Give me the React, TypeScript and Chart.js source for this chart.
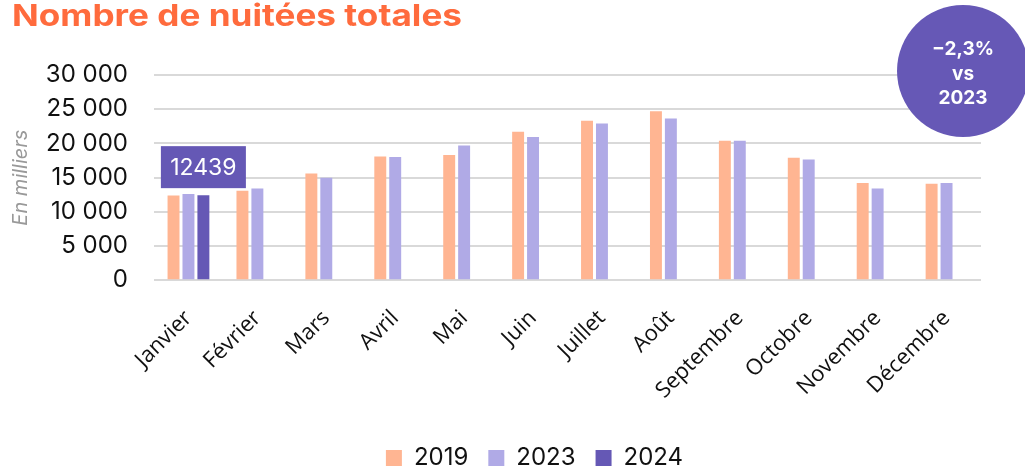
import React, { useEffect, useRef } from "react";
import { Chart, registerables } from "chart.js";

Chart.register(...registerables);

const categories = ["Janvier", "Février", "Mars", "Avril", "Mai", "Juin", "Juillet", "Août", "Septembre", "Octobre", "Novembre", "Décembre"];
const values2019 = [12400, 13100, 15600, 18100, 18300, 21700, 23300, 24700, 20400, 17900, 14200, 14100];
const values2023 = [12600, 13400, 15000, 18000, 19700, 20950, 22900, 23650, 20400, 17650, 13400, 14200];
const values2024 = [12439, null, null, null, null, null, null, null, null, null, null, null];
const seriesLabels = ["2019", "2023", "2024"];
const seriesColors = ["#FFB592", "#B0AAE6", "#6558B5"];
const titleText = "Nombre de nuitées totales";
const yTitle = "En milliers";
const badgeLines = ["−2,3%", "vs", "2023"];

const FONT = "Inter, 'Noto Sans', sans-serif";
const LABEL_FONT = "'Open Sans', 'Noto Sans', sans-serif";

const fmt = (v: number) => String(Math.round(v)).replace(/\B(?=(\d{3})+(?!\d))/g, " ");

const overlayPlugin = {
  id: "overlay",
  afterLayout(chart: any) {
    const lg = chart.legend;
    if (lg) {
      lg.left += 44;
      lg.right += 44;
    }
  },
  afterDatasetsDraw(chart: any) {
    const ctx = chart.ctx;
    const meta = chart.getDatasetMeta(2);
    const v = values2024[0];
    const el = meta.data[0];
    if (el && v != null) {
      const w = 85, h = 42;
      const x = el.x - w / 2;
      const y = el.y - 7 - h;
      ctx.save();
      ctx.fillStyle = "#6558B5";
      ctx.fillRect(x, y, w, h);
      ctx.fillStyle = "#ffffff";
      ctx.font = `400 23px ${FONT}`;
      ctx.textAlign = "center";
      ctx.textBaseline = "middle";
      ctx.fillText(String(v), el.x, y + h / 2 + 1);
      ctx.restore();
    }
  },
  afterDraw(chart: any) {
    const ctx = chart.ctx;
    // title
    ctx.save();
    ctx.font = `700 30px ${FONT}`;
    ctx.fillStyle = "#FF6B3D";
    ctx.textAlign = "left";
    ctx.textBaseline = "alphabetic";
    const mw = ctx.measureText(titleText).width;
    const targetW = 450;
    ctx.translate(12, 26);
    ctx.scale(targetW / mw, 1);
    ctx.fillText(titleText, 0, 0);
    ctx.restore();
    // badge
    const cx = chart.width - 62;
    const cy = 71;
    const r = 66;
    ctx.save();
    ctx.beginPath();
    ctx.arc(cx, cy, r, 0, Math.PI * 2);
    ctx.fillStyle = "#6658B6";
    ctx.fill();
    ctx.fillStyle = "#ffffff";
    ctx.font = `700 19px ${FONT}`;
    ctx.textAlign = "center";
    ctx.textBaseline = "alphabetic";
    badgeLines.forEach((t, i) => ctx.fillText(t, cx, 55 + i * 24.5));
    ctx.restore();
  },
};

export default function App() {
  const ref = useRef<HTMLCanvasElement>(null);
  useEffect(() => {
    if (!ref.current) return;
    const chart = new Chart(ref.current, {
      type: "bar",
      data: {
        labels: categories,
        datasets: [
          { label: seriesLabels[0], data: values2019, backgroundColor: seriesColors[0] },
          { label: seriesLabels[1], data: values2023, backgroundColor: seriesColors[1] },
          { label: seriesLabels[2], data: values2024 as any, backgroundColor: seriesColors[2] },
        ],
      },
      options: {
        animation: false,
        responsive: false,
        maintainAspectRatio: false,
        datasets: { bar: { categoryPercentage: 0.65, barPercentage: 0.8 } },
        layout: { padding: { left: 0, right: 44, top: 75, bottom: -12 } },
        plugins: {
          tooltip: { enabled: false },
          title: { display: false },
          legend: {
            position: "bottom",
            labels: {
              boxWidth: 16,
              boxHeight: 16,
              padding: 20,
              color: "#111",
              font: { family: FONT, size: 24 },
            },
          },
        },
        scales: {
          x: {
            afterFit: (scale: any) => {
              scale.height += 5;
            },
            grid: { display: false },
            border: { display: false },
            ticks: {
              color: "#111",
              font: { family: LABEL_FONT, size: 22 },
              minRotation: 45,
              maxRotation: 45,
              padding: 17,
            },
          },
          y: {
            min: 0,
            max: 30000,
            afterFit: (scale: any) => {
              scale.width = 154;
            },
            ticks: {
              stepSize: 5000,
              color: "#111",
              font: { family: FONT, size: 24 },
              padding: 26,
              callback: (v: any) => fmt(Number(v)),
            },
            grid: { color: "#d9d9d9", lineWidth: 2, drawTicks: false },
            border: { display: false },
            title: {
              display: true,
              text: yTitle,
              color: "#999",
              font: { family: FONT, size: 20, style: "italic" },
              padding: { top: 9, bottom: 0 },
            },
          },
        },
      },
      plugins: [overlayPlugin],
    });
    return () => chart.destroy();
  }, []);
  return (
    <div style={{ position: "fixed", left: 0, top: 0, width: 1025, height: 468, background: "#fff" }}>
      <canvas ref={ref} width={1025} height={468} style={{ display: "block" }} />
    </div>
  );
}
